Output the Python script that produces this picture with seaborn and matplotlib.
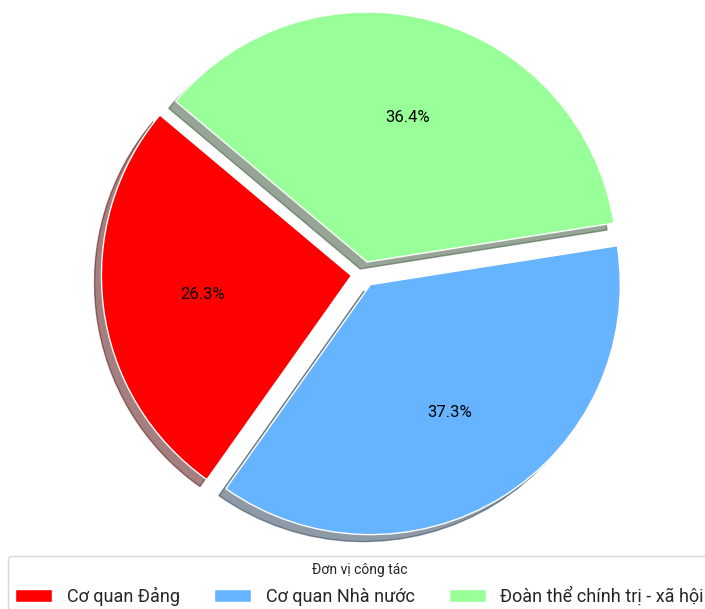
import matplotlib
matplotlib.use("Agg")
import matplotlib.pyplot as plt
import seaborn as sns

labels = ["Cơ quan Đảng", "Cơ quan Nhà nước", "Đoàn thể chính trị - xã hội"]
shares = [26.3, 37.3, 36.4]
colors = ["#ff0000", "#66b3ff", "#99ff99"]
legend_title = "Đơn vị công tác"

sns.set_style("white")
plt.rcParams['font.family'] = ['Roboto', 'DejaVu Sans']

fig = plt.figure(figsize=(7.05, 6.09), dpi=100)
ax = fig.add_axes([0.126, 0.0985, 0.780, 0.903])

wedges, texts, autotexts = ax.pie(
    shares, colors=sns.color_palette(colors), explode=(0.05, 0.05, 0.05),
    autopct='%1.1f%%', startangle=140, shadow=True,
    textprops={'fontsize': 12, 'color': 'black'})
ax.set_xlim(-1.1, 1.1)
ax.set_ylim(-1.1, 1.1)
ax.set_aspect('equal')

fig.legend(wedges, labels, title=legend_title, loc='upper left',
           bbox_to_anchor=(0.0115, 0.087), borderaxespad=0, ncol=3,
           fontsize=13, title_fontsize=10, handlelength=2.05,
           handletextpad=0.8, columnspacing=1.9, frameon=True)

fig.savefig('out.png', dpi=100)
